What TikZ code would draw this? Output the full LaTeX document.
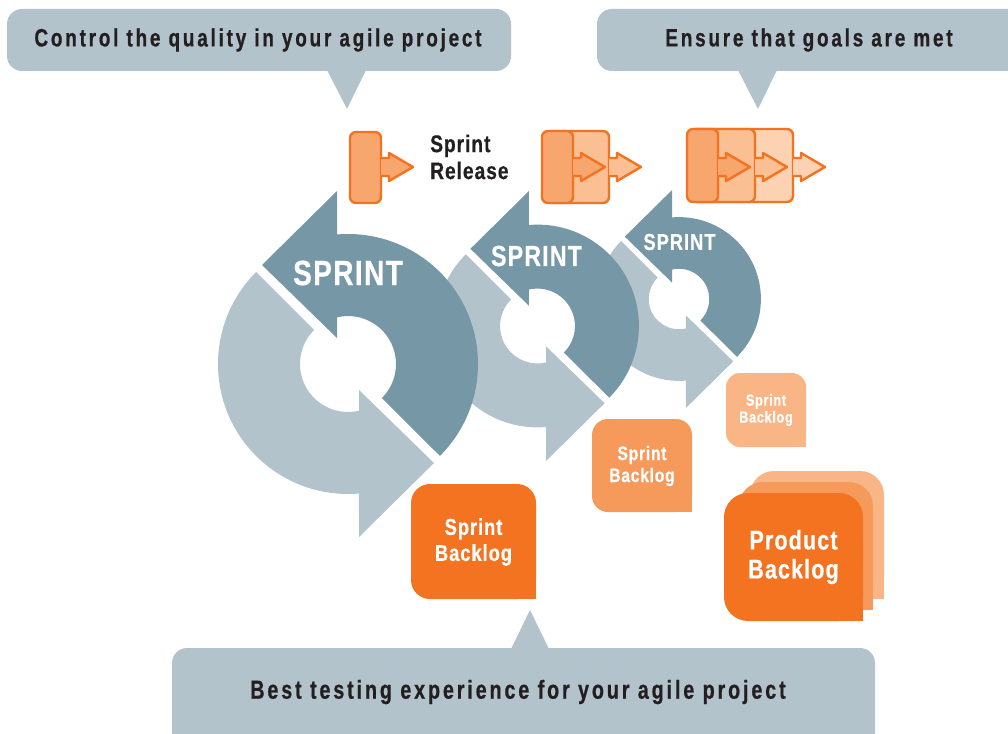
\documentclass[tikz,border=0pt]{standalone}
\usepackage{fontspec}
\newfontfamily\callfont{Liberation Sans}[FakeStretch=0.76,LetterSpace=11,FakeBold=0.6]
\newfontfamily\tagfont{Liberation Sans}[FakeStretch=0.8,LetterSpace=4,FakeBold=0.5]
\definecolor{slate}{HTML}{7597A6}
\definecolor{mist}{HTML}{B3C3CC}
\definecolor{ink}{HTML}{231F20}
\definecolor{orangeA}{HTML}{F37321}
\definecolor{orangeB}{HTML}{F69A5B}
\definecolor{orangeC}{HTML}{F9B585}
\definecolor{relA}{HTML}{F7A66E}
\definecolor{relB}{HTML}{FABF93}
\definecolor{relC}{HTML}{FCD2B2}
% one half of a sprint cycle, centre at origin, y up
\newcommand{\sprintarrow}{(-45:130) arc[start angle=-45,end angle=94.85,radius=130] -- (-11,173) -- (-86,99) -- (-11,26) -- (-11,46.7) arc[start angle=103.25,end angle=-45,radius=48] -- cycle}
% release arrow leaving a frame edge at x=#1
\newcommand{\releasearrow}[2]{\filldraw[relline,fill=#2] (#1,158) -- ++(8,0) -- ++(0,-5) -- ++(24,14) -- ++(-24,14) -- ++(0,-5) -- ++(-8,0);}

\begin{document}
\begin{tikzpicture}[x=1pt,y=-1pt,
    calltext/.style={font=\callfont\bfseries\fontsize{25}{28}\selectfont,text=ink,inner sep=0},
    cycletext/.style={text=white,inner sep=0},
    relline/.style={draw=orangeA,line width=2.4,line join=round},
    logtext/.style={text=white,align=center,inner sep=0}]
          \useasboundingbox (0,0) rectangle (1008,733);
          \clip (0,0) rectangle (1008,733);
          % callouts
          \fill[mist,rounded corners=15] (7,9) rectangle (511,71);
          \fill[mist] (327,70) -- (366,70) -- (347,109) -- cycle;
          \node[calltext] (quality) at (258,40) {Control the quality in your agile project};
          \fill[mist,rounded corners=15] (597,9) rectangle (1040,71);
          \fill[mist] (738,70) -- (777,70) -- (758,109) -- cycle;
          \node[calltext] (goals) at (809,40) {Ensure that goals are met};
          \fill[mist,rounded corners=15] (172,648) rectangle (875,770);
          \fill[mist] (511,649) -- (549,649) -- (530,610) -- cycle;
          \node[calltext,font=\callfont\bfseries\fontsize{26}{28}\selectfont] (testing) at (518,692) {Best testing experience for your agile project};
          % sprint cycles, back to front
          \begin{scope}[shift={(679,299)},scale=0.63,yscale=-1]
            \fill[mist,rotate=180] \sprintarrow;
            \fill[slate] \sprintarrow;
          \end{scope}
          \node[cycletext,font=\tagfont\bfseries\fontsize{23}{26}\selectfont] (sprintc) at (679.5,242) {SPRINT};
          \begin{scope}[shift={(537.5,326)},scale=0.78,yscale=-1]
            \fill[mist,rotate=180] \sprintarrow;
            \fill[slate] \sprintarrow;
          \end{scope}
          \node[cycletext,font=\tagfont\bfseries\fontsize{29}{32}\selectfont] (sprintb) at (536.5,256) {SPRINT};
          \begin{scope}[shift={(348,364)},yscale=-1]
            \fill[mist,rotate=180] \sprintarrow;
            \fill[slate] \sprintarrow;
          \end{scope}
          \node[cycletext,font=\tagfont\bfseries\fontsize{35}{40}\selectfont] (sprinta) at (348,273) {SPRINT};
          % sprint releases
          \filldraw[relline,fill=relA,rounded corners=6] (350,132) rectangle (381,203);
          \releasearrow{381}{relA}
          \node[anchor=west,align=left,inner sep=0,text=ink,font=\tagfont\bfseries\fontsize{24}{27}\selectfont] (release) at (430,157) {Sprint\\Release};
          \filldraw[relline,fill=relB,rounded corners=6] (545,131) rectangle (609,203);
          \filldraw[relline,fill=relA,rounded corners=6] (542,131) rectangle (573,203);
          \releasearrow{573}{relA}
          \releasearrow{609}{relB}
          \filldraw[relline,fill=relC,rounded corners=6] (690,129) rectangle (793,202);
          \filldraw[relline,fill=relB,rounded corners=6] (690,129) rectangle (755,202);
          \filldraw[relline,fill=relA,rounded corners=6] (687,129) rectangle (718,202);
          \releasearrow{718}{relA}
          \releasearrow{755}{relB}
          \releasearrow{793}{relC}
          % sprint backlogs
          \fill[orangeA,rounded corners=19] (411,484) rectangle (536,599);
          \fill[orangeA] (511,574) rectangle (536,599);
          \node[logtext,font=\tagfont\bfseries\fontsize{23}{26}\selectfont] (backloga) at (473.5,542) {Sprint\\Backlog};
          \fill[orangeB,rounded corners=16] (592,419) rectangle (692,512);
          \fill[orangeB] (672,492) rectangle (692,512);
          \node[logtext,font=\tagfont\bfseries\fontsize{19.5}{22}\selectfont] (backlogb) at (642,466) {Sprint\\Backlog};
          \fill[orangeC,rounded corners=14] (726,373) rectangle (806,447);
          \fill[orangeC] (790,431) rectangle (806,447);
          \node[logtext,font=\tagfont\bfseries\fontsize{16}{17}\selectfont] (backlogc) at (766,410) {Sprint\\Backlog};
          % product backlog
          \fill[orangeC,rounded corners=24] (750,471) rectangle (884,599);
          \fill[orangeC] (859,574) rectangle (884,599);
          \fill[orangeB,rounded corners=24] (739,482) rectangle (873,610);
          \fill[orangeB] (848,585) rectangle (873,610);
          \fill[orangeA,rounded corners=24] (724,493) rectangle (863,621);
          \fill[orangeA] (838,596) rectangle (863,621);
          \node[logtext,font=\tagfont\bfseries\fontsize{27}{29}\selectfont] (product) at (793.5,557) {Product\\Backlog};
        \end{tikzpicture}
\end{document}
